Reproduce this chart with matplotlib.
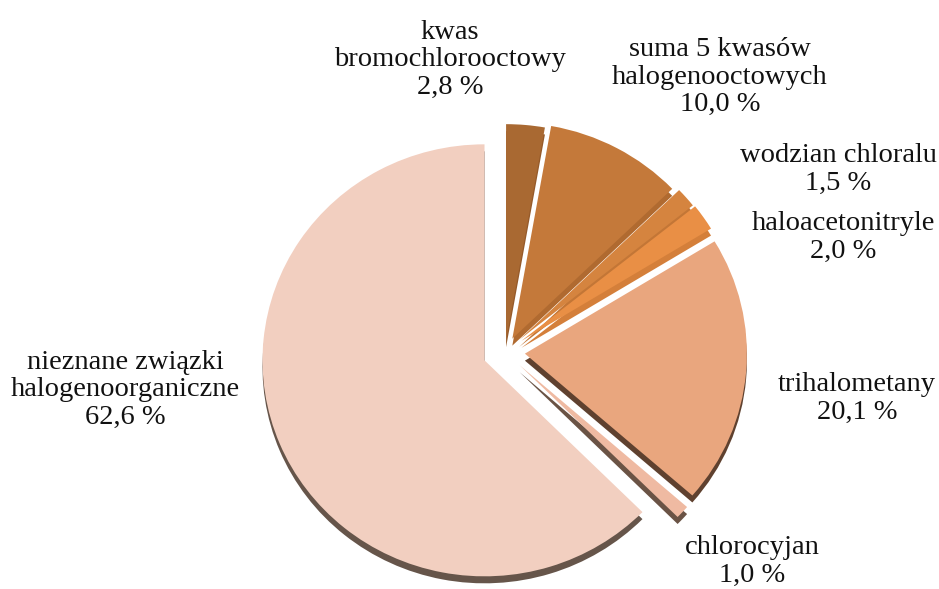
import matplotlib.pyplot as plt

# dane : udzial grup zwiazkow halogenoorganicznych (%)
labels = [
    "kwas\nbromochlorooctowy",
    "suma 5 kwasów\nhalogenooctowych",
    "wodzian chloralu",
    "haloacetonitryle",
    "trihalometany",
    "chlorocyjan",
    "nieznane związki\nhalogenoorganiczne",
]
values = [2.8, 10.0, 1.5, 2.0, 20.1, 1.0, 62.6]
explode = [0.055, 0.07, 0.085, 0.09, 0.09, 0.09, 0.10]

top_colors = ["#a96932", "#c4793a", "#d5843f", "#e98f45", "#e9a67e", "#efbaa2", "#f2cfc0"]
side_colors = ["#955a2a", "#b06a30", "#c37636", "#d47f3a", "#5f412f", "#6a5345", "#66554a"]

# pozycje etykiet w pikselach (x, y srodka bloku tekstu)
label_pos = [(450, 60), (720, 77), (838, 169), (843, 237), (857, 398), (752, 561), (125, 390)]

W, H = 939, 589
fig = plt.figure(figsize=(W / 100, H / 100), dpi=100)
ax = fig.add_axes([0, 0, 1, 1])

depth = 7 / 216

# boki (efekt 3D) : kopia wycinkow przesunieta w dol
ax.pie(values, explode=explode, colors=side_colors, startangle=90, counterclock=False,
       center=(0, -depth), wedgeprops=dict(linewidth=0))
# gorne powierzchnie
ax.pie(values, explode=explode, colors=top_colors, startangle=90, counterclock=False,
       wedgeprops=dict(linewidth=0))

# srodek w (505, 352) px, promien 222 px poziomo i 216 px pionowo
ax.set_aspect("auto")
ax.set_xlim(-505 / 222, (W - 505) / 222)
ax.set_ylim(-(H - 352) / 216, 352 / 216)
ax.axis("off")

for lab, v, (px, py) in zip(labels, values, label_pos):
    txt = lab + "\n" + ("%.1f" % v).replace(".", ",") + " %"
    fig.text(px / W, 1 - py / H, txt, ha="center", va="center", multialignment="center",
             fontsize=20.5, family="Liberation Serif", linespacing=1.15, color="#111111")

plt.savefig("out.png", dpi=100)
plt.close()
